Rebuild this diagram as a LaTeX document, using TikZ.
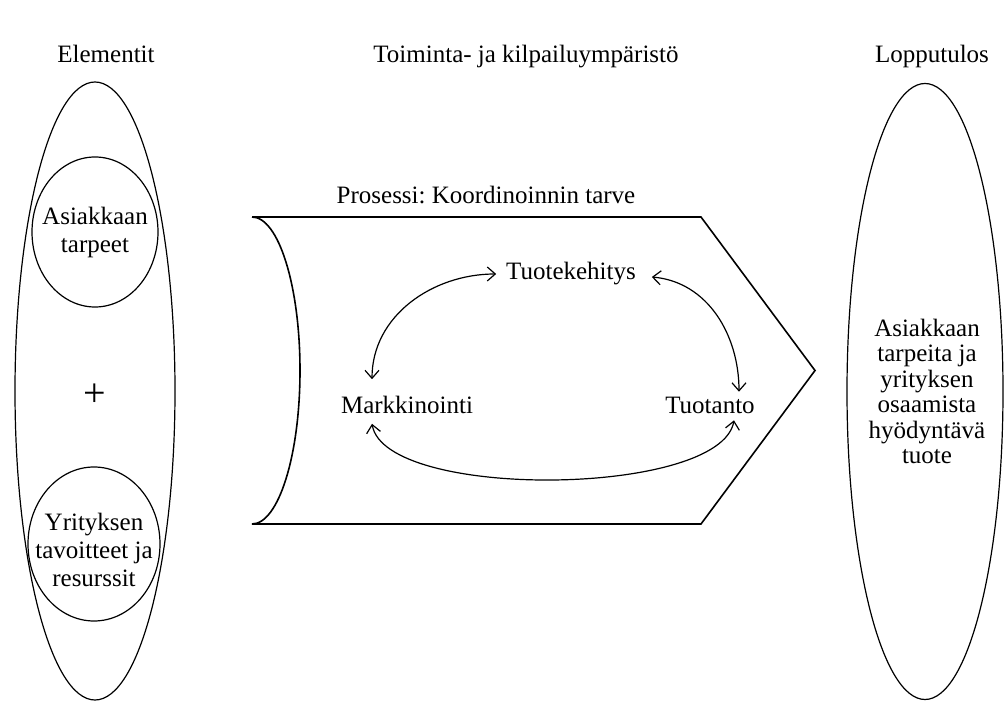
\documentclass[tikz,border=0pt]{standalone}
\usepackage{fontspec}
\setmainfont{Liberation Serif}
\usetikzlibrary{shapes.geometric,arrows.meta}
\frenchspacing

\begin{document}
\begin{tikzpicture}[x=0.5pt, y=0.5pt,
    every node/.style={font=\fontsize{12.5}{14}\selectfont},
    oval/.style={ellipse, draw, line width=0.6pt, inner sep=0pt},
    stage/.style={inner sep=3pt, outer sep=2pt},
    link/.style={{Straight Barb[length=4pt,width=7pt]}-{Straight Barb[length=4pt,width=7pt]}, line width=0.6pt}]
  \useasboundingbox (0,0) rectangle (1007,702);

  % Headings
  \node (hElem) at (106, 639) [anchor=base] {Elementit};
  \node (hEnv) at (526, 639) [anchor=base] {Toiminta- ja kilpailuympäristö};
  \node (hRes) at (932, 639) [anchor=base] {Lopputulos};

  % Elements
  \node (elem) at (95, 311) [oval, minimum width=80pt, minimum height=309pt] {};
  \node (needs) at (95, 470) [oval, minimum width=63pt, minimum height=75pt] {};
  \node (needsText) at (needs) [align=center] {Asiakkaan\\tarpeet};
  \node (plus) at (95, 307) [font=\fontsize{20}{24}\selectfont] {+};
  \node (goals) at (94, 158) [oval, minimum width=66pt, minimum height=77pt] {};
  \node (goalsText) at (94, 152) [align=center] {Yrityksen\\tavoitteet ja\\resurssit};

  % Process arrow
  \draw[line width=0.8pt] (252,485) -- (701,485) -- (815,331.5) -- (701,178) -- (252,178)
    arc[start angle=-90, end angle=90, x radius=24pt, y radius=76.75pt];
  \node (prc) at (486, 507) {Prosessi: Koordinoinnin tarve};
  \node (tk) at (571, 428) [stage] {Tuotekehitys};
  \node (mark) at (407, 297) [stage] {Markkinointi};
  \node (prod) at (710, 297) [stage] {Tuotanto};

  % Coordination between functions
  \draw[link] ([shift={(-35,7)}]mark.north) to[out=90, in=180] (tk.west);
  \draw[link] ([shift={(6,-3)}]tk.east) to[out=-5, in=90] ([shift={(29,-5)}]prod.north);
  \draw[link] ([shift={(-35,0)}]mark.south) to[out=-80, in=-100, looseness=0.55] ([shift={(24,3)}]prod.south);

  % Result
  \node (res) at (925, 310.5) [oval, minimum width=78pt, minimum height=308pt] {};
  \node (resText) at (927, 310.5) [align=center, font=\fontsize{12.5}{12.75}\selectfont]
    {Asiakkaan\\tarpeita ja\\yrityksen\\osaamista\\hyödyntävä\\tuote};
\end{tikzpicture}
\end{document}
